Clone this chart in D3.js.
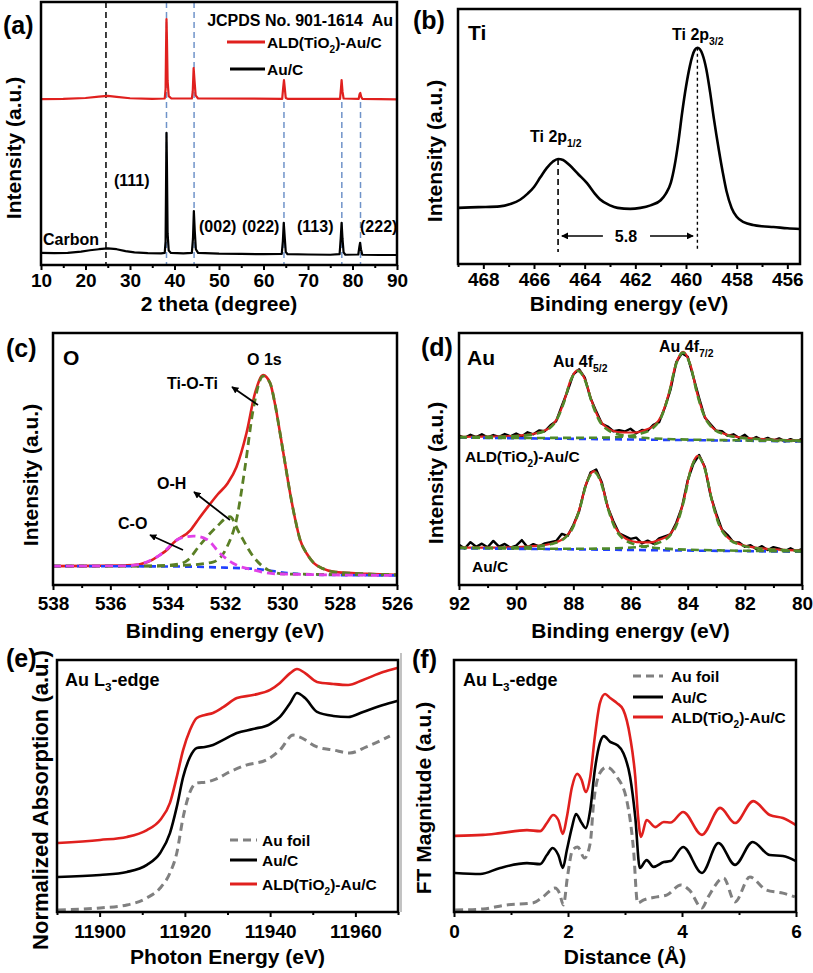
<!DOCTYPE html>
<html><head><meta charset="utf-8">
<script src="https://cdn.jsdelivr.net/npm/d3@7/dist/d3.min.js"></script>
<style>body{margin:0;background:#fff}svg{display:block}</style>
</head><body><svg id="c" width="813" height="973"></svg>
<script>
// ---------- (a) XRD ----------
const xrdTicks=[10,20,30,40,50,60,70,80,90];
const xrdMinor=[15,25,35,45,55,65,75,85];
const xrdBlack=[[10,4.6],[13,4.5],[16,4.6],[19,5.1],[21,5.6],[23,6.0],[25,6.3],[27,6.0],[29,5.3],[31,4.8],[34,4.5],[37,4.4],[37.8,4.6],[38.0,9],[38.1,30],[38.2,50.2],[38.3,38],[38.45,12],[38.7,5.5],[39.2,4.6],[42,4.4],[43.9,4.6],[44.15,10],[44.35,20.5],[44.55,13],[44.8,6],[45.3,4.6],[50,4.3],[55,4.2],[60,4.1],[64.1,4.2],[64.35,9],[64.55,16],[64.75,11],[65.0,5],[65.4,4.1],[70,4.0],[75,3.9],[77.1,4.1],[77.35,10],[77.55,16],[77.75,10],[78.0,4.8],[78.4,3.9],[81.3,4.0],[81.55,7],[81.7,8.4],[81.9,6],[82.2,3.9],[86,3.8],[90,3.8]];
const xrdRed=[[10,63.1],[15,63.2],[20,63.5],[23,64.0],[25,64.3],[27,63.9],[30,63.4],[35,63.2],[37.8,63.3],[38.0,67],[38.1,82],[38.2,93.5],[38.3,86],[38.45,70],[38.7,64.2],[39.3,63.3],[43.9,63.3],[44.1,66],[44.3,74.9],[44.5,70],[44.75,64.5],[45.3,63.3],[64.2,63.2],[64.4,67],[64.6,70.3],[64.8,67],[65.0,63.5],[65.4,63.2],[77.2,63.2],[77.4,67],[77.55,70.3],[77.75,66],[78.0,63.3],[81.4,63.2],[81.6,65],[81.75,65.4],[81.95,64.0],[82.2,63.2],[90,63.0]];
const carbonLine=24.6;
const auRefLines=[38.2,44.4,64.6,77.6,81.8];
const auRefTop=[100,100,62,62,62];
const hklLabels=["(111)","(002)","(022)","(113)","(222)"];

// ---------- (b) Ti 2p ----------
const tiTicks=[468,466,464,462,460,458,456];
const tiMinor=[469,467,465,463,461,459,457];
const tiData=[[469,22.0],[468.2,22.3],[467.35,22.6],[466.9,23.6],[466.55,25.2],[466.25,27.6],[466.0,30.2],[465.75,34.0],[465.5,37.6],[465.25,40.2],[465.05,41.2],[464.85,40.8],[464.6,38.8],[464.25,35.2],[463.9,31.6],[463.6,27.6],[463.4,25.4],[463.0,23.0],[462.7,22.0],[462.2,21.6],[461.8,22.0],[461.4,23.0],[461.0,25.0],[460.8,27.5],[460.6,31.8],[460.45,38.5],[460.3,48.0],[460.15,59.5],[460.0,69.5],[459.85,77.5],[459.75,81.5],[459.65,84.0],[459.55,84.8],[459.45,84.2],[459.35,82.2],[459.2,76.5],[459.05,67.5],[458.9,57.0],[458.7,44.5],[458.55,36.0],[458.4,28.5],[458.2,22.0],[458.0,18.5],[457.7,16.3],[457.35,15.3],[457.0,14.8],[456.55,14.5],[456.0,14.0],[455.5,13.7]];
const tiPeaks=[465.05,459.55];
const tiSplit="5.8";

// ---------- (c) O 1s ----------
const oTicks=[538,536,534,532,530,528,526];
const oMinor=[537,535,533,531,529,527];
const o1sEnv=[[538,7.5],[536.5,7.6],[535.2,7.9],[534.7,9.1],[534.27,11.9],[534.0,14.2],[533.8,16.7],[533.2,21.8],[532.9,26.5],[532.6,31.0],[532.25,36.0],[531.9,40.5],[531.6,46.8],[531.25,60.3],[530.95,76.2],[530.67,83.3],[530.43,80.2],[530.25,71.5],[530.08,60.3],[529.9,48.0],[529.73,36.5],[529.55,26.0],[529.38,17.9],[529.15,12.5],[528.9,8.7],[528.6,6.6],[528.2,5.2],[527.05,4.4],[526,4.0]];
const o1sTiOTi=[[538,7.5],[534.86,7.5],[533.33,7.9],[532.42,9.1],[531.93,15.1],[531.58,27.0],[531.3,46.8],[531.02,69.4],[530.67,82.9],[530.43,80.2],[530.25,71.5],[530.08,60.3],[529.9,48.0],[529.73,36.5],[529.55,26.0],[529.38,17.9],[529.15,12.5],[528.9,8.7],[528.6,6.6],[528.2,5.2],[527.05,4.4],[526,4.0]];
const o1sOH=[[538,7.5],[534.5,7.6],[533.6,8.3],[533.3,9.9],[532.87,15.9],[532.3,23.0],[531.83,27.1],[531.5,20.6],[531.0,11.1],[530.5,6.0],[529.97,4.4],[526,4.0]];
const o1sCO=[[538,7.5],[535.5,7.6],[534.86,8.6],[534.27,11.9],[533.57,18.5],[533.1,19.4],[532.63,18.1],[532.18,12.6],[531.72,8.6],[531.02,6.0],[530.2,4.4],[526,3.8]];
const o1sBg=[[538,7.5],[533.3,7.3],[532.3,7.0],[530.8,6.2],[529.7,4.6],[528.5,4.0],[526,3.8]];

// ---------- (d) Au 4f ----------
const auTicks=[92,90,88,86,84,82,80];
const auMinor=[91,89,87,85,83,81];
const auRawX=[92.0,91.8,91.6,91.4,91.2,91.0,90.8,90.6,90.4,90.2,90.0,89.8,89.6,89.4,89.2,89.0,88.8,88.6,88.4,88.2,88.0,87.8,87.6,87.4,87.2,87.0,86.8,86.6,86.4,86.2,86.0,85.8,85.6,85.4,85.2,85.0,84.8,84.6,84.4,84.2,84.0,83.8,83.6,83.4,83.2,83.0,82.8,82.6,82.4,82.2,82.0,81.8,81.6,81.4,81.2,81.0,80.8,80.6,80.4,80.2,80.0];
const auTopRaw=[59.3,58.4,59.6,58.7,59.8,58.6,59.5,58.8,59.9,59.0,60.1,59.0,60.6,59.8,61.3,61.0,63.4,65.0,71.2,77.0,83.6,85.6,82.3,74.2,68.9,64.0,62.9,61.0,61.4,60.9,62.0,60.2,61.5,61.2,63.6,64.6,70.4,77.5,88.4,92.0,90.6,82.5,74.2,66.5,63.8,61.2,61.0,59.2,59.8,58.3,59.6,57.6,58.7,57.5,58.4,57.3,58.2,57.0,57.9,57.0,58.0];
const auBotRaw=[16.0,14.5,17.0,15.2,16.4,15.0,17.5,15.2,16.3,14.8,15.6,17.8,15.0,16.2,15.3,16.5,17.0,17.5,20.3,19.5,23.8,29.2,38.5,44.6,45.8,40.6,31.0,25.3,20.5,19.4,18.3,18.8,16.5,17.6,16.4,18.5,19.3,20.1,24.6,30.9,41.5,48.1,51.6,46.8,35.6,28.3,22.0,19.8,17.0,16.9,15.2,15.8,14.3,15.4,13.9,15.0,14.4,13.5,14.6,13.4,14.2];
const auTopFit=[[92,58.8],[91,58.9],[90,59.2],[89.34,60.1],[88.84,62.35],[88.59,65.56],[88.34,72.34],[88.09,81.5],[87.84,85.29],[87.59,81.5],[87.34,72.45],[87.09,65.74],[86.84,62.57],[86.34,60.59],[85.84,60.52],[85.5,61.49],[85.16,63.36],[84.91,67.43],[84.66,76.0],[84.41,87.72],[84.16,92.52],[83.91,87.6],[83.66,75.75],[83.41,67.02],[83.16,62.8],[82.66,59.76],[82.16,58.63],[81,57.72],[80,57.34]];
const auTopP1=[[92,58.7],[91,58.78],[90,59.09],[89.34,59.93],[88.84,62.15],[88.59,65.36],[88.34,72.08],[88.09,81.23],[87.84,84.98],[87.59,81.17],[87.34,71.96],[87.09,65.18],[86.84,61.91],[86.34,59.55],[85.84,58.68],[85.34,58.26],[84.5,57.86],[83,57.53],[80,57.08]];
const auTopP2=[[92,58.57],[90,58.35],[88,58.39],[87,58.47],[86.16,58.98],[85.66,59.97],[85.16,62.85],[84.91,66.98],[84.66,75.62],[84.41,87.39],[84.16,92.22],[83.91,87.33],[83.66,75.5],[83.41,66.8],[83.16,62.6],[82.66,59.59],[82.16,58.48],[81,57.62],[80,57.26]];
const auTopBg=[[92,58.5],[86,57.75],[80,57.0]];
const auBotFit=[[92,14.87],[91,14.87],[90,15.03],[89.28,15.49],[88.78,16.38],[88.28,19.01],[88.03,22.7],[87.78,30.39],[87.53,40.85],[87.28,45.19],[87.03,40.92],[86.78,30.53],[86.53,22.88],[86.28,19.26],[85.78,17.04],[85.28,16.95],[85.0,17.9],[84.64,19.93],[84.39,24.28],[84.14,33.51],[83.89,46.12],[83.64,51.27],[83.39,45.98],[83.14,33.24],[82.89,23.86],[82.64,19.33],[82.14,16.05],[81.64,14.86],[80.64,13.93],[80,13.63]];
const auBotP1=[[92,14.8],[91,14.78],[90,14.92],[89.28,15.36],[88.78,16.23],[88.28,18.79],[88.03,22.46],[87.78,30.13],[87.53,40.57],[87.28,44.85],[87.03,40.51],[86.78,30.01],[86.53,22.28],[86.28,18.55],[85.78,15.88],[85.28,14.9],[84.5,14.24],[83,13.78],[80,13.33]];
const auBotP2=[[92,14.67],[90,14.48],[88.5,14.39],[87.64,14.39],[86.64,14.53],[85.64,15.17],[85.14,16.22],[84.64,19.34],[84.39,23.78],[84.14,33.08],[83.89,45.74],[83.64,50.93],[83.39,45.68],[83.14,32.97],[82.89,23.61],[82.64,19.11],[82.14,15.87],[81.64,14.7],[80.64,13.83],[80,13.55]];
const auBotBg=[[92,14.6],[86,13.9],[80,13.2]];

// ---------- (e) XANES ----------
const xasTicks=[11900,11920,11940,11960];
const xasMinor=[11890,11910,11930,11950,11970];
const xasFoil=[[11890.2,0.8],[11900.1,1.6],[11906.4,2.8],[11911.1,5.6],[11914.2,9.5],[11916.5,15.5],[11918.1,23.4],[11919.6,37.7],[11921.2,47.6],[11922.8,51.2],[11925.1,51.6],[11927.4,52.8],[11930.5,55.6],[11934.4,58.3],[11939.1,60.3],[11942.3,64.3],[11945.4,70.2],[11947.0,69.4],[11951.0,65.5],[11954.8,64.3],[11958.7,63.1],[11962.6,65.5],[11968.1,69.8]];
const xasAuC=[[11890.2,13.9],[11900.1,14.7],[11906.4,15.9],[11911.1,18.7],[11914.2,23.4],[11916.5,31.3],[11918.1,41.7],[11919.6,53.6],[11921.2,61.5],[11922.8,65.1],[11924.7,65.5],[11926.6,66.3],[11929.0,68.3],[11932.2,71.0],[11936.0,72.6],[11940.0,74.6],[11942.3,77.4],[11944.7,82.9],[11946.3,86.9],[11948.2,84.9],[11951.0,79.4],[11954.8,77.8],[11958.3,77.4],[11961.8,79.4],[11966.5,82.1],[11969.8,83.7]];
const xasALD=[[11890.2,27.4],[11900.1,28.6],[11906.4,29.8],[11911.1,32.5],[11914.2,36.5],[11916.5,43.3],[11918.1,53.6],[11919.6,64.3],[11921.2,72.2],[11922.8,77.0],[11924.7,78.2],[11926.6,79.0],[11929.0,81.3],[11932.2,84.9],[11936.0,86.1],[11940.0,88.1],[11942.3,90.9],[11944.7,94.8],[11946.3,96.4],[11948.2,94.8],[11951.0,91.3],[11954.8,90.5],[11958.3,90.1],[11961.8,92.1],[11966.5,95.2],[11969.8,96.8]];

// ---------- (f) FT-EXAFS ----------
const ftTicks=[0,2,4,6];
const ftMinor=[1,3,5];
const ftFoil=[[0.02,0.8],[0.51,1.2],[0.92,2.8],[1.38,3.6],[1.56,6.0],[1.77,9.5],[1.85,7.5],[1.92,2.8],[1.99,13.9],[2.08,24.6],[2.17,25.8],[2.29,21.4],[2.39,27.4],[2.45,43.3],[2.56,55.2],[2.68,57.5],[2.86,53.6],[3.03,44.4],[3.15,24.6],[3.22,3.6],[3.33,4.8],[3.56,6.0],[3.73,6.7],[3.98,10.7],[4.13,8.7],[4.35,1.6],[4.46,6.0],[4.73,13.5],[4.93,4.0],[5.19,13.9],[5.48,8.7],[5.77,7.5],[5.98,6.0]];
const ftAuC=[[0.02,15.5],[0.46,15.1],[0.81,17.5],[1.28,19.4],[1.51,19.0],[1.63,22.6],[1.73,25.4],[1.83,22.6],[1.91,17.5],[1.98,24.6],[2.07,33.7],[2.14,38.9],[2.24,35.3],[2.31,33.3],[2.39,40.5],[2.47,56.3],[2.56,67.1],[2.63,69.8],[2.74,67.5],[2.86,66.3],[2.97,63.1],[3.09,53.6],[3.18,37.7],[3.26,17.5],[3.38,20.6],[3.5,17.9],[3.68,19.8],[3.8,20.2],[4.02,25.8],[4.35,15.5],[4.64,27.4],[4.93,18.7],[5.24,27.8],[5.54,22.6],[5.77,22.2],[6.0,20.2]];
const ftALD=[[0.02,30.2],[0.51,30.6],[0.81,31.3],[1.28,32.5],[1.51,32.1],[1.63,35.3],[1.74,38.5],[1.83,36.5],[1.91,31.0],[1.98,37.7],[2.07,49.6],[2.16,54.8],[2.24,52.4],[2.31,47.6],[2.39,53.6],[2.47,69.4],[2.56,82.9],[2.65,86.5],[2.74,84.9],[2.86,82.9],[2.97,80.2],[3.09,69.4],[3.18,53.6],[3.23,37.7],[3.28,29.8],[3.38,36.5],[3.53,33.7],[3.68,35.7],[3.8,35.5],[4.02,39.7],[4.35,30.6],[4.67,41.3],[4.93,35.3],[5.25,44.0],[5.54,38.5],[5.77,37.3],[6.0,34.5]];

// ================= drawing =================
const FONT="'Liberation Sans', Arial, Helvetica, sans-serif";
const RED="#e0201e", GRAY="#808080", BLUEREF="#6f93c9";
const svg=d3.select("#c").attr("font-family",FONT).attr("font-weight","bold");
const defs=svg.append("defs");
defs.append("marker").attr("id","arr").attr("viewBox","0 0 10 10").attr("refX",9).attr("refY",5)
  .attr("markerWidth",7).attr("markerHeight",7).attr("markerUnits","userSpaceOnUse").attr("orient","auto")
  .append("path").attr("d","M0,0 L10,5 L0,10 z").attr("fill","#000");

let clipN=0;
function panel(o){
  const x=d3.scaleLinear().domain(o.xd).range([o.l,o.r]);
  const y=d3.scaleLinear().domain([0,100]).range([o.b,o.t]);
  const g=svg.append("g");
  const id="clip"+(clipN++);
  defs.append("clipPath").attr("id",id).append("rect").attr("x",o.l).attr("y",o.t).attr("width",o.r-o.l).attr("height",o.b-o.t);
  g.append("g").attr("transform",`translate(0,${o.b})`)
    .call(d3.axisBottom(x).tickValues(o.minor).tickSize(3).tickFormat(""))
    .call(a=>{a.select(".domain").remove();a.selectAll("line").attr("stroke-width",2);});
  g.append("g").attr("transform",`translate(0,${o.b})`)
    .call(d3.axisBottom(x).tickValues(o.major).tickSize(5).tickPadding(o.pad).tickFormat(d3.format("d")))
    .call(a=>{a.select(".domain").remove();a.selectAll("line").attr("stroke-width",2);
      a.selectAll("text").attr("font-size",19).attr("font-family",FONT).attr("font-weight","bold").attr("fill","#000");});
  const plot=g.append("g").attr("clip-path",`url(#${id})`);
  g.append("rect").attr("x",o.l).attr("y",o.t).attr("width",o.r-o.l).attr("height",o.b-o.t)
    .attr("fill","none").attr("stroke","#000").attr("stroke-width",2.5);
  g.append("text").attr("x",(o.l+o.r)/2).attr("y",o.xtY).attr("text-anchor","middle").attr("font-size",21).text(o.xt);
  const yt=g.append("text").attr("transform",`translate(${o.ytX},${o.ytY}) rotate(-90)`).attr("text-anchor","middle").attr("font-size",o.ytS||21);
  yt.text(o.yt);
  g.append("text").attr("x",o.labX).attr("y",o.labY).attr("font-size",25).text(o.lab);
  return {x,y,g,plot};
}
function line(P,data,color,w,dash,curve){
  const gen=d3.line().x(d=>P.x(d[0])).y(d=>P.y(d[1])).curve(curve||d3.curveMonotoneX);
  const p=P.plot.append("path").datum(data).attr("d",gen).attr("fill","none").attr("stroke",color)
    .attr("stroke-width",w).attr("stroke-linejoin","round").attr("stroke-linecap",dash?"butt":"round");
  if(dash)p.attr("stroke-dasharray",dash);
  return p;
}
function rich(g,x,y,parts,size,anchor){
  const t=g.append("text").attr("x",x).attr("y",y).attr("font-size",size).attr("text-anchor",anchor||"start");
  let sh=0;
  parts.forEach(([s,sub])=>{
    const sp=t.append("tspan").text(s);
    if(sub){sp.attr("font-size",size*0.65).attr("dy",size*0.3);sh=size*0.3;}
    else if(sh){sp.attr("dy",-sh);sh=0;}
  });
  return t;
}
const ALD=[["ALD(TiO",0],["2",1],[")-Au/C",0]];

// ---- (a) ----
const A=panel({xd:[10,90],l:41,r:397,t:2,b:265,major:xrdTicks,minor:xrdMinor,pad:3.5,
  xt:"2 theta (degree)",xtY:311,yt:"Intensity (a.u.)",ytX:21,ytY:148,lab:"(a)",labX:3,labY:34});
A.plot.append("line").attr("x1",A.x(carbonLine)).attr("x2",A.x(carbonLine)).attr("y1",A.y(100)).attr("y2",A.y(0))
  .attr("stroke","#000").attr("stroke-width",1.5).attr("stroke-dasharray","6,4");
auRefLines.forEach((v,i)=>{
  A.plot.append("line").attr("x1",A.x(v)).attr("x2",A.x(v)).attr("y1",A.y(auRefTop[i])).attr("y2",A.y(0))
    .attr("stroke",BLUEREF).attr("stroke-width",1.5).attr("stroke-dasharray","6,4");
});
line(A,xrdBlack,"#000",2.2,null,d3.curveLinear);
line(A,xrdRed,RED,2.2,null,d3.curveLinear);
A.g.append("text").attr("x",393).attr("y",26).attr("text-anchor","end").attr("font-size",16).text("JCPDS No. 901-1614\u00a0\u00a0Au");
A.g.append("line").attr("x1",227).attr("x2",265).attr("y1",42).attr("y2",42).attr("stroke",RED).attr("stroke-width",3);
rich(A.g,267,48,ALD,15.5);
A.g.append("line").attr("x1",230).attr("x2",265).attr("y1",69).attr("y2",69).attr("stroke","#000").attr("stroke-width",3);
A.g.append("text").attr("x",267).attr("y",75).attr("font-size",15.5).text("Au/C");
const hklPos=[[114,186],[199,232],[242,232],[297,232],[360,232]];
hklLabels.forEach((s,i)=>A.g.append("text").attr("x",hklPos[i][0]).attr("y",hklPos[i][1]).attr("font-size",16).text(s));
A.g.append("text").attr("x",43).attr("y",245).attr("font-size",16).text("Carbon");

// ---- (b) ----
const B=panel({xd:[469,455.5],l:458,r:800,t:9,b:264,major:tiTicks,minor:tiMinor,pad:3.5,
  xt:"Binding energy (eV)",xtY:311,yt:"Intensity (a.u.)",ytX:442,ytY:151,lab:"(b)",labX:413,labY:29});
B.plot.append("line").attr("x1",B.x(tiPeaks[0])).attr("x2",B.x(tiPeaks[0])).attr("y1",B.y(41.2)).attr("y2",B.y(4.7))
  .attr("stroke","#000").attr("stroke-width",1.6).attr("stroke-dasharray","6,4");
B.plot.append("line").attr("x1",B.x(tiPeaks[1])).attr("x2",B.x(tiPeaks[1])).attr("y1",B.y(84.8)).attr("y2",B.y(5.8))
  .attr("stroke","#000").attr("stroke-width",1.4).attr("stroke-dasharray","3,3");
line(B,tiData,"#000",2.6);
B.g.append("line").attr("x1",B.x(463.28)).attr("x2",B.x(464.9)).attr("y1",B.y(11)).attr("y2",B.y(11))
  .attr("stroke","#000").attr("stroke-width",1.6).attr("marker-end","url(#arr)");
B.g.append("line").attr("x1",B.x(461.42)).attr("x2",B.x(459.72)).attr("y1",B.y(11)).attr("y2",B.y(11))
  .attr("stroke","#000").attr("stroke-width",1.6).attr("marker-end","url(#arr)");
B.g.append("text").attr("x",B.x(462.37)).attr("y",B.y(11)+6).attr("text-anchor","middle").attr("font-size",16).text(tiSplit);
B.g.append("text").attr("x",468).attr("y",40).attr("font-size",21).text("Ti");
rich(B.g,672,40,[["Ti 2p",0],["3/2",1]],16);
rich(B.g,530,142,[["Ti 2p",0],["1/2",1]],16);

// ---- (c) ----
const C=panel({xd:[538,526],l:53,r:397,t:333,b:585,major:oTicks,minor:oMinor,pad:6.5,
  xt:"Binding energy (eV)",xtY:638,yt:"Intensity (a.u.)",ytX:38,ytY:475,lab:"(c)",labX:6,labY:357});
line(C,o1sEnv,RED,2.6);
line(C,o1sBg,"#2040ff",2.6,"7,5");
line(C,o1sOH,"#5a7f25",2.8,"8,5");
line(C,o1sTiOTi,"#5a7f25",2.8,"8,5");
line(C,o1sCO,"#e040e8",2.8,"8,5");
C.g.append("text").attr("x",63).attr("y",365).attr("font-size",21).text("O");
C.g.append("text").attr("x",247).attr("y",365).attr("font-size",16).text("O 1s");
C.g.append("text").attr("x",167).attr("y",389).attr("font-size",16).text("Ti-O-Ti");
C.g.append("text").attr("x",157).attr("y",489).attr("font-size",16).text("O-H");
C.g.append("text").attr("x",118).attr("y",529).attr("font-size",16).text("C-O");
[[258,405,232,387],[230,520,194,492],[183,550,150,535]].forEach(a=>{
  C.g.append("line").attr("x1",a[0]).attr("y1",a[1]).attr("x2",a[2]).attr("y2",a[3])
    .attr("stroke","#000").attr("stroke-width",1.8).attr("marker-end","url(#arr)");
});

// ---- (d) ----
const D=panel({xd:[92,80],l:459,r:802,t:333,b:585,major:auTicks,minor:auMinor,pad:6.5,
  xt:"Binding energy (eV)",xtY:638,yt:"Intensity (a.u.)",ytX:443,ytY:473,lab:"(d)",labX:421,labY:356});
line(D,auRawX.map((v,i)=>[v,auTopRaw[i]]),"#000",2.4,null,d3.curveLinear);
line(D,auRawX.map((v,i)=>[v,auBotRaw[i]]),"#000",2.4,null,d3.curveLinear);
line(D,auTopFit,RED,2.2);
line(D,auBotFit,RED,2.2);
line(D,auTopBg,"#2040ff",2.6,"7,5");
line(D,auBotBg,"#2040ff",2.6,"7,5");
[auTopP1,auTopP2,auBotP1,auBotP2].forEach(d=>line(D,d,"#4f8a2a",2.6,"8,5"));
D.g.append("text").attr("x",467).attr("y",365).attr("font-size",21).text("Au");
rich(D.g,553,367,[["Au 4f",0],["5/2",1]],16);
rich(D.g,659,352,[["Au 4f",0],["7/2",1]],16);
rich(D.g,465,462,ALD,15.5);
D.g.append("text").attr("x",472).attr("y",572).attr("font-size",15.5).text("Au/C");

// ---- (e) ----
const E=panel({xd:[11890,11970],l:57,r:398,t:660,b:912,major:xasTicks,minor:xasMinor,pad:7.5,
  xt:"Photon Energy (eV)",xtY:964,yt:"Normalized Absorption (a.u.)",ytX:48,ytY:800,ytS:22,lab:"(e)",labX:6,labY:667});
line(E,xasFoil,GRAY,3,"8,5");
line(E,xasAuC,"#000",2.6);
line(E,xasALD,RED,2.6);
rich(E.g,65,686,[["Au L",0],["3",1],["-edge",0]],18);
E.g.append("line").attr("x1",230).attr("x2",257).attr("y1",840).attr("y2",840).attr("stroke",GRAY).attr("stroke-width",3).attr("stroke-dasharray","8,5");
E.g.append("text").attr("x",262).attr("y",846).attr("font-size",15.5).text("Au foil");
E.g.append("line").attr("x1",230).attr("x2",257).attr("y1",860).attr("y2",860).attr("stroke","#000").attr("stroke-width",3);
E.g.append("text").attr("x",262).attr("y",866).attr("font-size",15.5).text("Au/C");
E.g.append("line").attr("x1",230).attr("x2",257).attr("y1",884).attr("y2",884).attr("stroke",RED).attr("stroke-width",3);
rich(E.g,262,890,ALD,15.5);

// ---- (f) ----
const F=panel({xd:[0,6],l:454,r:796,t:660,b:912,major:ftTicks,minor:ftMinor,pad:7.5,
  xt:"Distance (\u00c5)",xtY:964,yt:"FT Magnitude (a.u.)",ytX:431,ytY:798,lab:"(f)",labX:412,labY:668});
line(F,ftFoil,GRAY,3,"8,5");
line(F,ftAuC,"#000",2.6);
line(F,ftALD,RED,2.6);
rich(F.g,463,686,[["Au L",0],["3",1],["-edge",0]],18);
F.g.append("line").attr("x1",633).attr("x2",663).attr("y1",676).attr("y2",676).attr("stroke",GRAY).attr("stroke-width",3).attr("stroke-dasharray","8,5");
F.g.append("text").attr("x",671).attr("y",682).attr("font-size",15.5).text("Au foil");
F.g.append("line").attr("x1",633).attr("x2",663).attr("y1",697).attr("y2",697).attr("stroke","#000").attr("stroke-width",3);
F.g.append("text").attr("x",671).attr("y",703).attr("font-size",15.5).text("Au/C");
F.g.append("line").attr("x1",633).attr("x2",663).attr("y1",717).attr("y2",717).attr("stroke",RED).attr("stroke-width",3);
rich(F.g,671,723,ALD,15.5);
// thin separator seen in the source image
svg.append("line").attr("x1",401).attr("x2",401).attr("y1",653).attr("y2",912).attr("stroke","#9a9a9a").attr("stroke-width",1.2);
</script></body></html>
